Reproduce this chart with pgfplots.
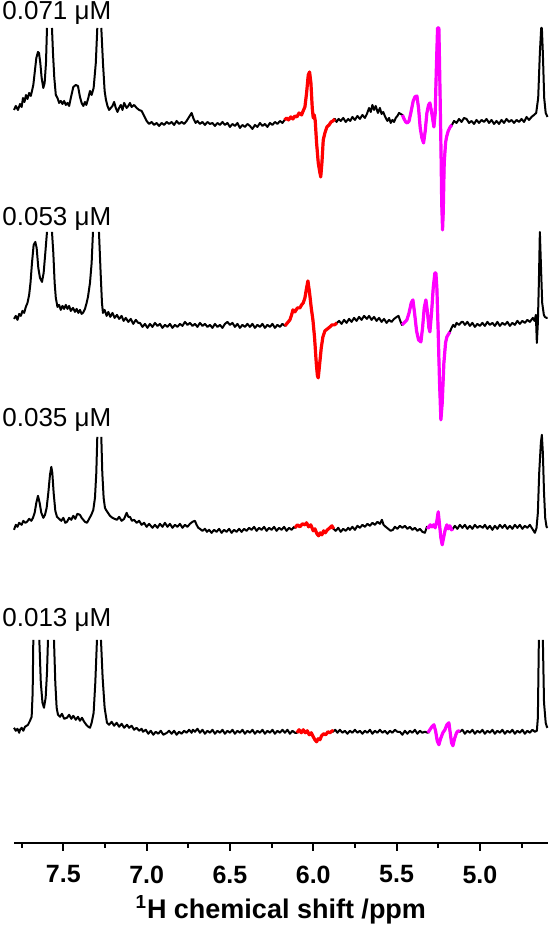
\documentclass[border=0pt]{standalone}
\usepackage{fontspec}
\setmainfont{Liberation Sans}
\usepackage{pgfplots}
\usepackage{pgfplotstable}
\pgfplotsset{compat=1.18}
\definecolor{specred}{RGB}{255,0,0}
\definecolor{specmag}{RGB}{255,0,255}

% stacked 1H spectra, offsets already in the y values (baseline of each trace)
\pgfplotstableread{
x y
7.796 733
7.785 737
7.772 733
7.760 739
7.750 736
7.742 745
7.733 741
7.724 748
7.715 744
7.705 750
7.695 747
7.688 752
7.680 758
7.672 770
7.662 785
7.652 791
7.646 790
7.638 780
7.630 765
7.620 755
7.612 760
7.604 780
7.598 815
7.583 nan
7.568 815
7.562 790
7.554 765
7.545 748
7.535 745
7.525 740
7.515 742
7.505 739
7.495 742
7.485 738
7.475 740
7.465 737
7.455 745
7.440 756
7.425 758
7.412 757
7.400 746
7.390 740
7.380 737
7.370 741
7.362 738
7.350 745
7.340 752
7.330 748
7.318 755
7.305 780
7.296 815
7.284 nan
7.272 815
7.262 780
7.252 752
7.244 743
7.235 737
7.225 733
7.215 735
7.205 737
7.195 741
7.185 735
7.175 731
7.165 735
7.155 738
7.145 733
7.135 740
7.120 735
7.110 737
7.100 740
7.090 736
7.075 738
7.060 735
7.045 733
7.030 732
7.015 727
7.000 722
6.985 719
6.970 721
6.955 718
6.940 720
6.925 717
6.910 720
6.895 718
6.880 721
6.865 719
6.850 721
6.835 718
6.820 722
6.805 719
6.790 721
6.775 719
6.760 722
6.745 726
6.730 730
6.718 724
6.706 720
6.695 722
6.680 719
6.665 721
6.650 718
6.635 721
6.620 719
6.605 720
6.590 717
6.575 720
6.560 718
6.545 721
6.530 718
6.515 720
6.500 716
6.485 719
6.470 717
6.455 720
6.440 715
6.425 718
6.410 716
6.395 719
6.380 717
6.365 714
6.350 718
6.335 716
6.320 720
6.305 717
6.290 719
6.275 716
6.260 720
6.245 718
6.230 721
6.215 719
6.200 722
6.185 720
6.172 723
6.160 725
6.148 723
6.135 726
6.122 724
6.110 727
6.098 726
6.085 730
6.070 728
6.058 733
6.050 736
6.040 750
6.030 768
6.022 771
6.014 760
6.006 735
6.000 725
5.994 728
5.988 722
5.980 700
5.970 680
5.960 670
5.955 666
5.948 680
5.940 703
5.930 710
5.918 716
5.905 718
5.893 721
5.882 722
5.870 724
5.860 721
5.848 724
5.835 722
5.820 725
5.805 721
5.790 724
5.778 722
5.765 726
5.750 723
5.735 727
5.720 724
5.705 728
5.690 725
5.678 729
5.665 735
5.655 731
5.645 738
5.635 733
5.625 737
5.612 730
5.600 735
5.590 729
5.580 731
5.568 726
5.555 722
5.545 725
5.535 720
5.525 723
5.515 721
5.505 725
5.495 727
5.485 730
5.475 729
5.465 728
5.455 724
5.445 721
5.435 720
5.425 722
5.412 732
5.400 742
5.390 746
5.378 747
5.368 735
5.358 715
5.348 705
5.338 700
5.328 712
5.318 730
5.308 738
5.300 740
5.292 733
5.284 725
5.276 716
5.268 730
5.262 770
5.254 815
5.246 815
5.240 760
5.234 700
5.229 640
5.224 613
5.220 630
5.214 680
5.206 700
5.200 706
5.190 712
5.178 716
5.168 718
5.155 722
5.140 720
5.125 724
5.110 721
5.095 725
5.080 724
5.065 720
5.050 722
5.035 719
5.020 723
5.005 720
4.990 723
4.975 721
4.960 724
4.945 720
4.930 723
4.915 719
4.900 722
4.885 719
4.870 723
4.855 720
4.840 724
4.825 721
4.810 723
4.795 720
4.780 723
4.765 721
4.750 724
4.735 721
4.720 726
4.705 723
4.690 726
4.675 728
4.662 730
4.650 745
4.640 790
4.632 815
4.628 815
4.622 790
4.614 745
4.605 730
4.594 726
}\specA

\pgfplotstableread{
x y
7.796 524
7.785 527
7.775 523
7.765 529
7.755 527
7.745 532
7.735 530
7.725 536
7.715 540
7.705 548
7.697 560
7.688 580
7.678 598
7.668 601
7.660 595
7.650 575
7.640 565
7.628 561
7.618 570
7.608 590
7.598 611
7.583 nan
7.568 611
7.560 590
7.552 560
7.545 545
7.535 536
7.525 538
7.515 533
7.505 537
7.495 534
7.485 538
7.475 534
7.465 537
7.455 532
7.442 535
7.430 531
7.420 534
7.410 530
7.400 533
7.390 529
7.382 530
7.370 534
7.360 540
7.352 546
7.340 560
7.330 580
7.322 611
7.304 nan
7.286 611
7.276 570
7.268 540
7.262 530
7.252 533
7.240 527
7.230 531
7.218 526
7.205 530
7.192 525
7.178 528
7.165 524
7.150 527
7.138 522
7.125 525
7.110 521
7.095 524
7.080 519
7.065 523
7.050 520
7.040 520
7.025 516
7.010 519
6.995 515
6.980 519
6.965 516
6.950 520
6.935 517
6.920 519
6.905 515
6.890 518
6.875 516
6.860 519
6.845 515
6.830 518
6.815 516
6.800 519
6.785 517
6.770 521
6.755 518
6.740 520
6.725 517
6.710 519
6.695 516
6.680 520
6.665 517
6.650 519
6.635 516
6.620 518
6.605 515
6.590 519
6.575 516
6.560 518
6.545 515
6.530 519
6.515 521
6.500 518
6.485 520
6.470 516
6.455 519
6.440 515
6.425 518
6.410 516
6.395 519
6.380 516
6.365 519
6.350 515
6.335 518
6.320 516
6.305 519
6.290 515
6.275 518
6.260 516
6.245 519
6.230 515
6.215 518
6.200 516
6.185 519
6.170 517
6.155 520
6.140 523
6.130 528
6.122 533
6.110 531
6.095 535
6.080 535
6.070 538
6.060 540
6.050 545
6.040 555
6.032 562
6.022 550
6.012 535
6.002 523
5.992 505
5.982 480
5.975 467
5.970 465
5.962 478
5.952 495
5.942 506
5.930 512
5.915 514
5.900 516
5.888 518
5.872 518
5.858 520
5.845 522
5.830 519
5.815 523
5.800 520
5.785 524
5.770 521
5.755 525
5.740 522
5.725 526
5.710 523
5.695 527
5.678 524
5.665 527
5.650 523
5.635 526
5.620 522
5.605 525
5.590 521
5.575 524
5.560 520
5.545 523
5.530 521
5.515 524
5.499 526
5.488 527
5.478 522
5.468 518
5.455 520
5.438 523
5.425 530
5.412 540
5.402 543
5.392 530
5.380 512
5.368 503
5.354 501
5.344 515
5.334 535
5.324 543
5.314 530
5.306 515
5.300 511
5.290 530
5.280 555
5.270 570
5.264 570
5.258 555
5.250 510
5.242 460
5.234 423
5.226 440
5.216 480
5.206 500
5.198 506
5.180 511
5.170 515
5.160 518
5.150 516
5.140 520
5.125 518
5.110 521
5.102 521
5.090 518
5.075 521
5.060 517
5.045 520
5.030 516
5.015 519
5.000 517
4.985 520
4.970 517
4.955 521
4.940 518
4.925 520
4.910 517
4.895 521
4.880 517
4.865 520
4.850 518
4.835 521
4.820 517
4.805 520
4.790 518
4.775 522
4.760 519
4.745 522
4.730 520
4.715 523
4.700 521
4.682 525
4.672 522
4.664 528
4.658 500
4.652 520
4.646 560
4.640 611
4.634 580
4.626 540
4.616 528
4.610 526
4.600 525
4.594 525
}\specB

\pgfplotstableread{
x y
7.796 313
7.785 318
7.775 316
7.765 320
7.750 318
7.740 322
7.728 320
7.718 321
7.705 324
7.692 322
7.682 325
7.672 330
7.662 340
7.652 347
7.642 340
7.632 330
7.620 325
7.610 328
7.600 335
7.590 350
7.580 368
7.572 376
7.566 370
7.558 350
7.548 332
7.538 326
7.525 324
7.512 322
7.500 325
7.488 320
7.478 321
7.465 325
7.452 323
7.440 327
7.428 324
7.416 329
7.400 328
7.390 325
7.380 323
7.370 321
7.358 320
7.345 324
7.332 328
7.320 333
7.310 345
7.302 370
7.296 406
7.284 nan
7.272 406
7.266 370
7.258 345
7.250 335
7.244 333
7.232 330
7.220 327
7.205 325
7.192 324
7.178 323
7.165 326
7.150 322
7.135 324
7.120 330
7.110 326
7.100 326
7.088 322
7.075 323
7.060 320
7.045 322
7.030 318
7.015 320
7.000 316
6.985 319
6.980 318
6.965 315
6.950 318
6.935 315
6.920 319
6.905 316
6.890 320
6.875 316
6.860 319
6.845 315
6.830 318
6.815 316
6.800 319
6.785 315
6.770 318
6.755 316
6.740 319
6.725 321
6.710 322
6.700 318
6.690 315
6.680 314
6.665 312
6.650 314
6.638 311
6.625 313
6.610 310
6.595 313
6.580 311
6.565 314
6.550 310
6.535 313
6.520 311
6.505 314
6.490 310
6.475 313
6.460 311
6.445 314
6.430 311
6.415 314
6.400 312
6.385 315
6.370 313
6.355 316
6.340 312
6.325 315
6.310 313
6.295 316
6.280 312
6.265 315
6.250 313
6.235 316
6.220 312
6.205 315
6.190 313
6.175 316
6.160 312
6.145 315
6.130 313
6.115 316
6.110 315
6.095 318
6.080 316
6.065 319
6.050 318
6.040 320
6.028 316
6.015 318
6.000 312
5.990 314
5.978 309
5.968 307
5.958 310
5.948 308
5.938 312
5.928 310
5.915 313
5.900 315
5.888 317
5.878 314
5.865 312
5.850 315
5.835 311
5.820 314
5.805 312
5.790 315
5.780 313
5.765 316
5.750 313
5.735 317
5.720 315
5.705 318
5.690 316
5.675 319
5.660 317
5.645 320
5.630 318
5.615 321
5.600 319
5.588 323
5.578 318
5.565 316
5.550 314
5.535 312
5.522 313
5.510 316
5.495 314
5.480 317
5.465 315
5.450 317
5.435 314
5.420 316
5.405 313
5.390 315
5.375 312
5.360 314
5.345 311
5.330 310
5.318 316
5.308 315
5.298 318
5.288 316
5.278 318
5.268 315
5.258 322
5.250 331
5.242 318
5.234 305
5.226 298
5.218 305
5.208 313
5.198 318
5.190 314
5.180 317
5.170 313
5.162 314
5.150 317
5.135 314
5.120 318
5.105 315
5.090 318
5.075 314
5.060 317
5.045 314
5.030 318
5.015 315
5.000 317
4.982 315
4.970 318
4.955 314
4.940 317
4.925 313
4.910 317
4.895 314
4.880 318
4.865 315
4.850 318
4.835 314
4.820 317
4.805 314
4.790 318
4.775 315
4.760 318
4.745 314
4.730 317
4.715 315
4.700 318
4.685 314
4.670 310
4.660 315
4.652 330
4.644 370
4.634 400
4.628 408
4.622 390
4.615 350
4.608 325
4.600 316
4.594 315
}\specC

\pgfplotstableread{
x y
7.796 115
7.785 112
7.775 114
7.765 110
7.760 113
7.750 115
7.740 112
7.730 116
7.720 117
7.712 118
7.700 122
7.690 126
7.684 150
7.680 203
7.662 nan
7.644 203
7.635 160
7.625 140
7.616 135
7.606 145
7.598 170
7.592 203
7.574 nan
7.556 203
7.548 160
7.540 135
7.532 128
7.520 126
7.508 129
7.495 124
7.478 125
7.465 128
7.452 124
7.440 127
7.425 123
7.412 126
7.400 122
7.388 125
7.375 121
7.362 118
7.350 116
7.340 115
7.330 120
7.318 130
7.308 160
7.298 203
7.286 nan
7.274 203
7.264 165
7.252 135
7.238 120
7.225 118
7.210 121
7.195 117
7.180 120
7.165 116
7.150 119
7.135 115
7.118 118
7.105 115
7.090 117
7.075 113
7.060 115
7.045 112
7.030 114
7.022 111
7.005 113
6.990 109
6.975 112
6.960 108
6.945 111
6.930 109
6.915 112
6.900 108
6.878 110
6.865 112
6.850 109
6.835 112
6.820 108
6.805 111
6.790 109
6.775 112
6.760 110
6.745 113
6.730 110
6.722 113
6.710 111
6.695 114
6.680 110
6.665 113
6.650 109
6.635 112
6.620 110
6.605 113
6.590 109
6.575 112
6.560 110
6.545 113
6.530 109
6.515 112
6.500 110
6.485 113
6.470 109
6.455 112
6.440 110
6.425 113
6.410 109
6.395 112
6.380 110
6.365 113
6.350 109
6.335 112
6.320 110
6.305 113
6.290 109
6.275 112
6.260 110
6.245 113
6.230 109
6.215 112
6.200 110
6.185 113
6.170 110
6.155 113
6.140 109
6.125 112
6.110 110
6.098 110
6.085 113
6.072 110
6.060 113
6.048 110
6.036 112
6.024 108
6.012 110
6.000 106
5.990 103
5.980 101
5.970 104
5.960 103
5.950 107
5.938 109
5.925 108
5.912 111
5.900 110
5.885 112
5.882 111
5.868 113
5.855 110
5.840 113
5.825 110
5.810 112
5.795 109
5.780 112
5.765 110
5.750 113
5.735 110
5.720 112
5.705 109
5.690 112
5.675 110
5.660 113
5.645 109
5.630 112
5.615 110
5.600 113
5.585 110
5.570 112
5.555 109
5.540 112
5.525 110
5.510 113
5.495 111
5.480 111
5.465 108
5.450 112
5.435 109
5.420 112
5.405 110
5.390 113
5.375 109
5.360 112
5.345 110
5.330 111
5.312 110
5.300 113
5.288 116
5.276 118
5.266 112
5.256 102
5.246 98
5.236 104
5.222 110
5.210 113
5.198 118
5.186 120
5.178 110
5.170 100
5.162 97
5.152 104
5.140 110
5.130 112
5.120 111
5.105 113
5.090 109
5.075 112
5.060 110
5.045 113
5.030 109
5.015 112
5.000 110
4.985 113
4.970 109
4.955 112
4.940 110
4.925 113
4.910 109
4.895 112
4.880 110
4.865 113
4.850 109
4.835 112
4.820 110
4.805 113
4.790 109
4.775 112
4.760 110
4.745 113
4.730 109
4.715 112
4.700 110
4.685 113
4.670 111
4.658 112
4.652 125
4.646 203
4.634 nan
4.622 203
4.615 140
4.605 120
4.598 116
4.594 115
}\specD

\begin{document}
\begin{tikzpicture}
\begin{axis}[
    scale only axis,
    width=266.85pt, height=421.5pt,
    x dir=reverse,
    xmin=4.594, xmax=7.796,
    ymin=0, ymax=843,
    axis x line=bottom,
    axis y line=none,
    x axis line style={-, line width=1.2pt},
    xtick={5,5.5,...,7.5},
    minor xtick={4.75,5.25,...,7.75},
    xtick align=outside,
    major tick length=4pt,
    minor tick length=2.5pt,
    tick style={black, line width=1pt},
    /pgf/number format/assume math mode=true,
    xticklabel={\pgfmathprintnumber[fixed,fixed zerofill,precision=1]{\tick}},
    xticklabel style={font=\fontsize{12.5}{14}\selectfont\bfseries, yshift=-4pt},
    xlabel={\textsuperscript{1}H chemical shift /ppm},
    xlabel style={font=\fontsize{13.5}{15}\selectfont\bfseries,
        at={(axis description cs:0.5,0)}, anchor=center, yshift=-33.5pt},
    unbounded coords=jump,
    clip=false,
    every axis plot/.append style={line join=round},
]
% black traces
\addplot[black, line width=1pt] table {\specA};
\addplot[black, line width=1pt] table {\specB};
\addplot[black, line width=1pt] table {\specC};
\addplot[black, line width=1pt] table {\specD};
% red (about 6.0 ppm) and magenta (about 5.3 ppm) segments
\addplot[specred, line width=1.6pt, restrict x to domain=5.870:6.172] table {\specA};
\addplot[specmag, line width=1.6pt, restrict x to domain=5.168:5.465] table {\specA};
\addplot[specred, line width=1.6pt, restrict x to domain=5.858:6.170] table {\specB};
\addplot[specmag, line width=1.6pt, restrict x to domain=5.180:5.468] table {\specB};
\addplot[specred, line width=1.6pt, restrict x to domain=5.878:6.110] table {\specC};
\addplot[specmag, line width=1.6pt, restrict x to domain=5.162:5.318] table {\specC};
\addplot[specred, line width=1.6pt, restrict x to domain=5.882:6.098] table {\specD};
\addplot[specmag, line width=1.6pt, restrict x to domain=5.120:5.312] table {\specD};
% concentration labels
\node[anchor=west, inner sep=0pt, font=\fontsize{13}{15}\selectfont] at (axis cs:7.868,830) {0.071 μM};
\node[anchor=west, inner sep=0pt, font=\fontsize{13}{15}\selectfont] at (axis cs:7.868,624) {0.053 μM};
\node[anchor=west, inner sep=0pt, font=\fontsize{13}{15}\selectfont] at (axis cs:7.868,423) {0.035 μM};
\node[anchor=west, inner sep=0pt, font=\fontsize{13}{15}\selectfont] at (axis cs:7.868,223) {0.013 μM};
\end{axis}
\pgfresetboundingbox
\path ([xshift=-7pt,yshift=-44.15pt]current axis.south west)
    rectangle ([xshift=1.15pt]current axis.north east);
\end{tikzpicture}
\end{document}
